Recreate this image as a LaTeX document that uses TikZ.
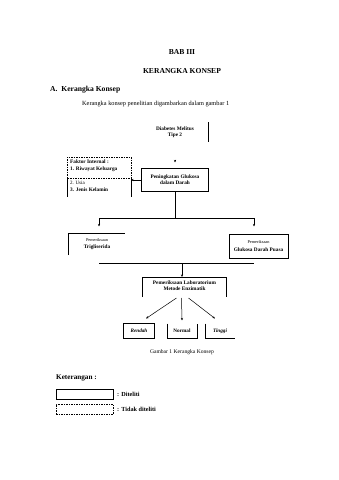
\documentclass[tikz,border=0pt]{standalone}
\usepackage{fontspec}
\setmainfont{Liberation Serif}
\usetikzlibrary{arrows.meta,calc}
\begin{document}
\begin{tikzpicture}[x=1pt,y=-1pt,
  hd/.style={font=\fontsize{7.6}{9}\selectfont\bfseries},
  body/.style={font=\fontsize{6.3}{8}\selectfont},
  dtext/.style={font=\fontsize{5.3}{6.3}\selectfont\bfseries,align=center,inner sep=0pt},
  stext/.style={font=\fontsize{4.3}{5}\selectfont,inner sep=0pt},
  capt/.style={font=\fontsize{5.6}{7}\selectfont},
  boxn/.style={inner sep=0pt,outer sep=0pt},
  ln/.style={line width=0.6pt},
  arr/.style={-{Stealth[length=2.6pt,width=2.2pt]},line width=0.5pt}]
\useasboundingbox[fill=white] (0,0) rectangle (339,480);
% headings
\node[hd] (bab) at (182,52) {BAB III};
\node[hd] (judul) at (182,71) {KERANGKA KONSEP};
\node[hd,anchor=west,inner sep=0pt] (sub) at (50,90) {A.\ \ Kerangka Konsep};
\node[body,anchor=west,inner sep=0pt] (kal) at (82,104) {Kerangka konsep penelitian digambarkan dalam gambar 1};
% Diabetes Melitus
\node[boxn,minimum width=66pt,minimum height=20pt] (dm) at (175,132) {};
\node[dtext] (dmt) at (175,132) {Diabetes Melitus\\Tipe 2};
\draw[ln] (dm.north east) -- (dm.south east);
% Peningkatan glukosa
\node[boxn,draw,ln,minimum width=67pt,minimum height=23pt] (pg) at (175,180) {};
\node[dtext] (pgt) at (175,180) {Peningkatan Glukosa\\dalam Darah};
\coordinate (dmtip) at ($(pg.north)+(0,-9)$);
\draw[arr] (dmtip) -- ++(0,3);
% Faktor internal
\node[boxn,minimum width=64pt,minimum height=40pt] (fi) at (99,177) {};
\coordinate (fimidL) at ($(fi.north west)+(0,21)$);
\coordinate (fimidR) at ($(fi.north east)+(0,21)$);
\draw[ln,dashed,dash pattern=on 1.5pt off 1pt] (fimidL) -- (fi.north west) -- (fi.north east) -- (fimidR) -- (fimidL);
\draw[ln] (fimidL) -- (fi.south west);
\draw[ln] (fimidR) -- (fi.south east);
\node[dtext,anchor=west,align=left] (fi1) at ($(fi.north west)+(3,5)$) {Faktor Internal :};
\node[dtext,anchor=west,align=left] (fi2) at ($(fi.north west)+(3,12.5)$) {1. Riwayat Keluarga};
\node[dtext,anchor=west,align=left,font=\fontsize{5}{6}\selectfont] (fi3) at ($(fi.north west)+(3,26)$) {2. Usia};
\node[dtext,anchor=west,align=left] (fi4) at ($(fi.north west)+(3,33)$) {3. Jenis Kelamin};
\draw[arr] (pg.west) -- (pg.west -| fi.east);
% branch 1
\coordinate (b1) at (99,218);
\coordinate (b2) at (254,218);
\draw[ln] (pg.south) -- (pg.south |- b1);
\draw[ln] (b1) -- (b2);
\draw[arr] (b1) -- ++(0,8.5);
\draw[arr] (b2) -- ++(0,8.5);
% Trigliserida
\node[boxn,minimum width=57pt,minimum height=22pt] (tg) at (96.5,244) {};
\node[stext] (tgs) at (97,240) {Pemeriksaan};
\node[dtext] (tgt) at (97,247.5) {Trigliserida};
\draw[ln] (tg.south west) -- (tg.north west) -- (tg.north east);
% GDP
\node[boxn,draw,ln,minimum width=59pt,minimum height=24pt] (gdp) at (258.5,246) {};
\node[stext] (gdps) at (258.5,242) {Pemeriksaan};
\node[dtext] (gdpt) at (258.5,249.5) {Glukosa Darah Puasa};
% branch 2
\coordinate (c1) at (99,263);
\coordinate (c2) at (254,263);
\draw[ln] (c1) -- (c2);
\coordinate (cm) at (182,263);
% Lab
\node[boxn,minimum width=84pt,minimum height=20pt] (lab) at (184.5,287) {};
\node[dtext] (labt) at (184.5,286) {Pemeriksaan Laboratorium\\Metode Enzimatik};
\draw[ln] (lab.south west) -- (lab.north west) -- (lab.north east) -- (lab.south east);
\draw[arr] (cm) -- (cm |- lab.north);
% results
\node[boxn,draw,ln,minimum width=31pt,minimum height=15pt] (ren) at (139,331) {};
\node[dtext,font=\fontsize{5.2}{6}\selectfont\bfseries\itshape] (rent) at (139,331) {Rendah};
\node[boxn,minimum width=30pt,minimum height=15pt] (nor) at (182,331) {};
\node[dtext,font=\fontsize{5.2}{6}\selectfont\bfseries] (nort) at (182,331) {Normal};
\draw[ln] (nor.north west) -- (nor.south west) -- (nor.south east) -- (nor.north east);
\node[boxn,minimum width=30pt,minimum height=15pt] (tin) at (220,331) {};
\node[dtext,font=\fontsize{5.2}{6}\selectfont\bfseries\itshape] (tint) at (220,331) {Tinggi};
\draw[ln] (tin.north west) -- (tin.south west) -- (tin.south east);
\draw[arr] ($(lab.south)+(-8,1)$) -- ($(ren.north)+(7,-5)$);
\draw[arr] ($(lab.south)+(-3,1)$) -- ($(nor.north)+(0,-3)$);
\draw[arr] ($(lab.south)+(4,1)$) -- ($(tin.north)+(-5,-5)$);
% caption
\node[capt] (cap) at (182,352) {Gambar 1 Kerangka Konsep};
% legend
\node[anchor=west,inner sep=0pt,font=\fontsize{7.2}{8.5}\selectfont\bfseries] (ket) at (56,378) {Keterangan :};
\node[boxn,draw,ln,minimum width=57pt,minimum height=10pt] (lg1) at (84.5,394) {};
\node[anchor=west,inner sep=0pt,font=\fontsize{6.2}{7.5}\selectfont\bfseries] (lg1t) at ($(lg1.east)+(4,0)$) {: Diteliti};
\node[boxn,draw,ln,dashed,dash pattern=on 1.5pt off 1pt,minimum width=57pt,minimum height=10pt] (lg2) at (84.5,409) {};
\node[anchor=west,inner sep=0pt,font=\fontsize{6.2}{7.5}\selectfont\bfseries] (lg2t) at ($(lg2.east)+(4,0)$) {: Tidak diteliti};
\end{tikzpicture}
\end{document}
